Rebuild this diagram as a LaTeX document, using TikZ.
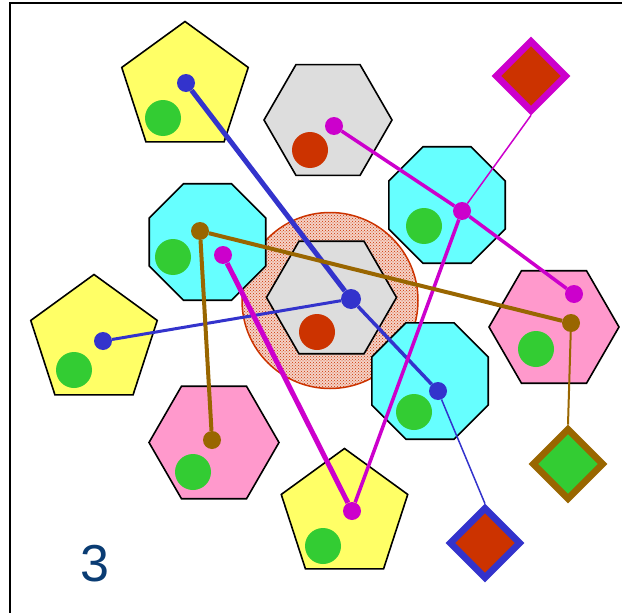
\documentclass[tikz,border=0pt]{standalone}
\usepackage{fontspec}
\setmainfont{Liberation Sans}
\usetikzlibrary{shapes.geometric,patterns,positioning}
\definecolor{netYellow}{RGB}{255,255,102}
\definecolor{netCyan}{RGB}{102,255,255}
\definecolor{netGray}{RGB}{221,221,221}
\definecolor{netPink}{RGB}{255,153,204}
\definecolor{netGreen}{RGB}{51,204,51}
\definecolor{netRed}{RGB}{204,51,0}
\definecolor{netBlue}{RGB}{51,51,204}
\definecolor{netMagenta}{RGB}{204,0,204}
\definecolor{netBrown}{RGB}{153,102,0}
\definecolor{netTitle}{RGB}{10,60,115}

\tikzset{
  pent/.style={regular polygon, regular polygon sides=5, minimum size=133pt,
    inner sep=0pt, draw=black, line width=1.6pt, fill=#1},
  hexa/.style={regular polygon, regular polygon sides=6, minimum size=130pt,
    inner sep=0pt, draw=black, line width=1.6pt, fill=#1},
  octa/.style={regular polygon, regular polygon sides=8, minimum size=126pt,
    inner sep=0pt, draw=black, line width=1.6pt, fill=#1},
  ball/.style={circle, fill=#1, minimum size=36pt, inner sep=0pt},
  dot/.style={circle, fill=#1, minimum size=18pt, inner sep=0pt},
  gem/.style 2 args={diamond, aspect=1, draw=#1, fill=#2, line width=6.6pt,
    minimum size=72pt, inner sep=0pt},
  wire/.style={draw=#1, line width=3.5pt},
}

\begin{document}
\begin{tikzpicture}[x=1pt, y=-1pt]
  \useasboundingbox (0,0) rectangle (622,613);
  % frame
  \draw[line width=2pt] (10,620) -- (10,3) -- (630,3);

  % shaded zone round the middle hexagon
  \fill[netRed!22] (330,300.5) circle[radius=88];
  \draw[netRed, line width=1.5pt, pattern=crosshatch dots, pattern color=netRed]
    (330,300.5) circle[radius=88];

  % shapes
  \node[pent=netYellow] (pentA) at (185,88) {};
  \node[pent=netYellow] (pentB) at (94,341) {};
  \node[pent=netYellow] (pentC) at (344.5,515) {};
  \node[hexa=netGray, minimum size=128pt] (hexA) at (328,120) {};
  \node[hexa=netGray] (hexC) at (331.5,297.5) {};
  \node[hexa=netPink] (hexL) at (214,442.5) {};
  \node[hexa=netPink] (hexR) at (554,327) {};
  \node[octa=netCyan] (octA) at (447,205) {};
  \node[octa=netCyan] (octB) at (207.5,242) {};
  \node[octa=netCyan] (octC) at (430,381) {};

  % balls
  \node[ball=netGreen] (gA) at (163,118) {};
  \node[ball=netGreen] (gB) at (74,370) {};
  \node[ball=netGreen] (gC) at (323,546) {};
  \node[ball=netGreen] (gD) at (193,472) {};
  \node[ball=netGreen] (gE) at (536,349) {};
  \node[ball=netGreen] (gF) at (424,226) {};
  \node[ball=netGreen] (gG) at (173,257) {};
  \node[ball=netGreen] (gH) at (414,412) {};
  \node[ball=netRed] (rA) at (310,150) {};
  \node[ball=netRed] (rC) at (317,332) {};

  % end diamonds
  \node[gem={netMagenta}{netRed}] (dA) at (531,76) {};
  \node[gem={netBrown}{netGreen}] (dB) at (568,464) {};
  \node[gem={netBlue}{netRed}] (dC) at (485,543) {};

  % dots
  \node[dot=netBlue] (bA) at (186,83) {};
  \node[dot=netBlue, minimum size=20pt] (bC) at (351,299) {};
  \node[dot=netBlue] (bD) at (438,391) {};
  \node[dot=netBlue] (bE) at (103,341) {};
  \node[dot=netMagenta] (mA) at (334,126) {};
  \node[dot=netMagenta] (mB) at (462,211) {};
  \node[dot=netMagenta] (mC) at (574,294) {};
  \node[dot=netMagenta] (mD) at (223,255) {};
  \node[dot=netMagenta] (mE) at (352,511) {};
  \node[dot=netBrown] (nA) at (200,231) {};
  \node[dot=netBrown] (nB) at (571,323) {};
  \node[dot=netBrown] (nC) at (212,440) {};

  % links
  \draw[wire=netBlue, line width=5pt] (bA) -- (bC);
  \draw[wire=netBlue, line width=3pt] (bE) -- (bC);
  \draw[wire=netBlue] (bC) -- (bD);
  \draw[wire=netBlue, line width=1.5pt] (bD) -- (dC.north);
  \draw[wire=netMagenta] (mA) -- (mB);
  \draw[wire=netMagenta] (mB) -- (mC);
  \draw[wire=netMagenta, line width=1.5pt] (mB) -- (dA.south);
  \draw[wire=netMagenta] (mB) -- (mE);
  \draw[wire=netMagenta, line width=5pt] (mD) -- (mE);
  \draw[wire=netBrown, line width=4pt] (nA) -- (nB);
  \draw[wire=netBrown, line width=4pt] (nA) -- (nC);
  \draw[wire=netBrown, line width=2pt] (nB) -- (dB.north);

  \node[text=netTitle, font=\fontsize{52}{60}\selectfont] (pageNum) at (95,564) {3};
\end{tikzpicture}
\end{document}
